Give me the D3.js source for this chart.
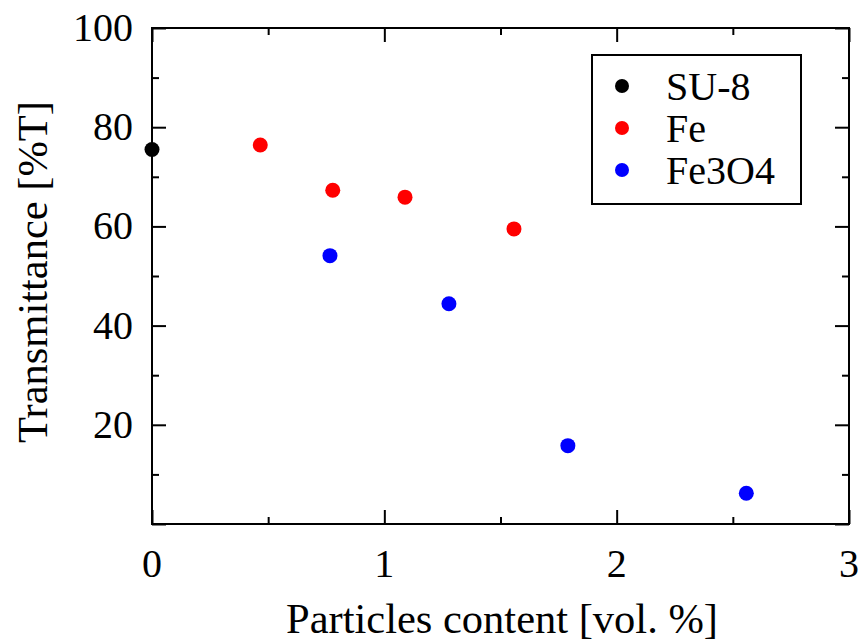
<!DOCTYPE html>
<html>
<head>
<meta charset="utf-8">
<script src="https://cdn.jsdelivr.net/npm/d3@7"></script>
<style>
  html, body { margin: 0; padding: 0; background: #fff; }
  svg { display: block; }
  text { font-family: "Liberation Serif", "Times New Roman", serif; fill: #000; }
</style>
</head>
<body>
<svg id="chart" width="861" height="643"></svg>
<script>
// Transmittance vs. particle loading
const seriesNames = ["SU-8", "Fe", "Fe3O4"];
const seriesColors = ["#000000", "#ff0000", "#0000ff"];

const su8X = [0.0];
const su8Y = [75.5];

const feX = [0.466, 0.778, 1.089, 1.558];
const feY = [76.4, 67.3, 65.9, 59.5];

const fe3o4X = [0.766, 1.278, 1.79, 2.558];
const fe3o4Y = [54.1, 44.4, 15.8, 6.2];

const xTicks = [0, 1, 2, 3];
const xMinor = [0.5, 1.5, 2.5];
const yTicks = [20, 40, 60, 80, 100];
const yMinor = [10, 30, 50, 70, 90];

const W = 861, H = 643;
const m = { left: 152, right: 12, top: 28, bottom: 119 };
const pw = W - m.left - m.right, ph = H - m.top - m.bottom;

const svg = d3.select("#chart");
const g = svg.append("g").attr("transform", `translate(${m.left},${m.top})`);

const x = d3.scaleLinear().domain([0, 3]).range([0, pw]);
const y = d3.scaleLinear().domain([0, 100]).range([ph, 0]);

const majorLen = 14, minorLen = 7, sw = 2;

// Frame
g.append("rect").attr("x", 0).attr("y", 0).attr("width", pw).attr("height", ph)
  .attr("fill", "none").attr("stroke", "#000").attr("stroke-width", sw);

// Inward ticks on all four sides
function ticksAxis(axisGen, transform) {
  const a = g.append("g").attr("transform", transform).call(axisGen);
  a.select(".domain").remove();
  a.selectAll("line").attr("stroke", "#000").attr("stroke-width", sw);
  a.selectAll("text").remove();
  return a;
}
ticksAxis(d3.axisBottom(x).tickValues(xTicks).tickSize(-majorLen), `translate(0,${ph})`);
ticksAxis(d3.axisBottom(x).tickValues(xMinor).tickSize(-minorLen), `translate(0,${ph})`);
ticksAxis(d3.axisTop(x).tickValues(xTicks).tickSize(-majorLen), `translate(0,0)`);
ticksAxis(d3.axisTop(x).tickValues(xMinor).tickSize(-minorLen), `translate(0,0)`);
ticksAxis(d3.axisLeft(y).tickValues([0, ...yTicks]).tickSize(-majorLen), `translate(0,0)`);
ticksAxis(d3.axisLeft(y).tickValues(yMinor).tickSize(-minorLen), `translate(0,0)`);
ticksAxis(d3.axisRight(y).tickValues([0, ...yTicks]).tickSize(-majorLen), `translate(${pw},0)`);
ticksAxis(d3.axisRight(y).tickValues(yMinor).tickSize(-minorLen), `translate(${pw},0)`);

// Tick labels
const fs = 40;
g.append("g").selectAll("text").data(xTicks).join("text")
  .attr("x", d => x(d)).attr("y", ph + 53)
  .attr("text-anchor", "middle").attr("font-size", fs).text(d => d);
g.append("g").selectAll("text").data(yTicks).join("text")
  .attr("x", -19).attr("y", d => y(d) + 13)
  .attr("text-anchor", "end").attr("font-size", fs).text(d => d);

// Axis titles
svg.append("text").attr("x", 502).attr("y", 633)
  .attr("text-anchor", "middle").attr("font-size", 42.5)
  .text("Particles content [vol. %]");
svg.append("text").attr("transform", `translate(47,272) rotate(-90)`)
  .attr("text-anchor", "middle").attr("font-size", 42.5)
  .text("Transmittance [%T]");

// Data points
const series = [
  { xs: su8X, ys: su8Y },
  { xs: feX, ys: feY },
  { xs: fe3o4X, ys: fe3o4Y }
];
series.forEach((s, i) => {
  g.append("g").selectAll("circle").data(s.xs.map((v, k) => [v, s.ys[k]])).join("circle")
    .attr("cx", d => x(d[0])).attr("cy", d => y(d[1])).attr("r", 7.5)
    .attr("fill", seriesColors[i]);
});

// Legend
const lg = svg.append("g").attr("transform", "translate(592,55)");
lg.append("rect").attr("width", 209).attr("height", 149)
  .attr("fill", "#fff").attr("stroke", "#000").attr("stroke-width", sw);
seriesNames.forEach((name, i) => {
  const cy = 31 + i * 42;
  lg.append("circle").attr("cx", 30).attr("cy", cy).attr("r", 7).attr("fill", seriesColors[i]);
  lg.append("text").attr("x", 74).attr("y", cy + 14).attr("font-size", fs).text(name);
});
</script>
</body>
</html>
